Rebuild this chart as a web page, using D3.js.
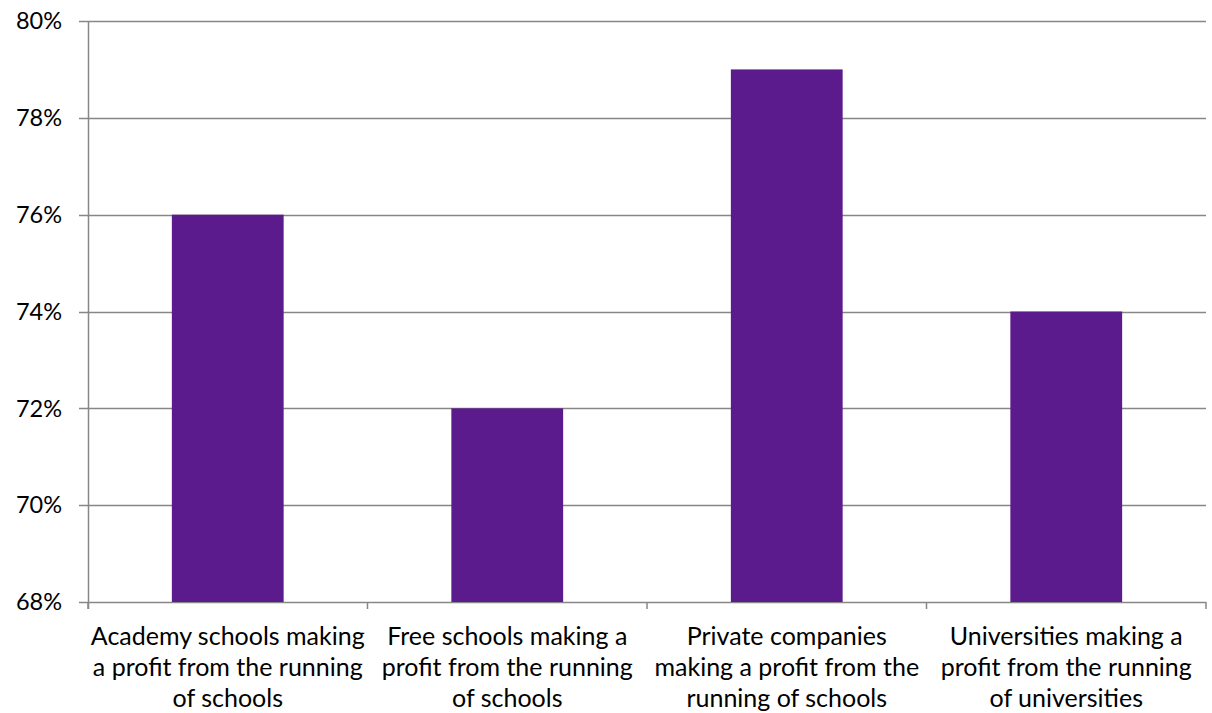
<!DOCTYPE html>
<html><head><meta charset="utf-8">
<script src="https://cdn.jsdelivr.net/npm/d3@7"></script>
<style>body{margin:0;background:#fff}svg{display:block}text{font-family:Lato,sans-serif;fill:#000}</style>
</head><body><svg id="c" width="1212" height="713"></svg>
<script>
const categories = [
  ["Academy schools making", "a profit from the running", "of schools"],
  ["Free schools making a", "profit from the running", "of schools"],
  ["Private companies", "making a profit from the", "running of schools"],
  ["Universities making a", "profit from the running", "of universities"]
];
const values = [76, 72, 79, 74];
const yTicks = [68, 70, 72, 74, 76, 78, 80];

const svg = d3.select("#c");
const L = 88, R = 1206, T = 21, B = 602;
const x = d3.scaleBand().domain(d3.range(categories.length)).range([L, R]).paddingInner(0.6).paddingOuter(0.3);
const y = d3.scaleLinear().domain([68, 80]).range([B, T]);

svg.append("g").selectAll("line").data(yTicks).join("line")
  .attr("x1", L - 9).attr("x2", R).attr("y1", d => Math.round(y(d)) + 0.5).attr("y2", d => Math.round(y(d)) + 0.5)
  .attr("stroke", "#878787").attr("stroke-width", 1.5);

svg.append("g").selectAll("rect").data(values).join("rect")
  .attr("x", (d, i) => x(i)).attr("width", x.bandwidth())
  .attr("y", d => y(d)).attr("height", d => B - y(d))
  .attr("fill", "#5B1B8D");

svg.append("line").attr("x1", L + 0.5).attr("x2", L + 0.5).attr("y1", T).attr("y2", B + 7)
  .attr("stroke", "#878787").attr("stroke-width", 1.5);

const step = x.step();
svg.append("g").selectAll("line").data(d3.range(categories.length + 1)).join("line")
  .attr("x1", i => L + i * step).attr("x2", i => L + i * step).attr("y1", B).attr("y2", B + 7)
  .attr("stroke", "#878787").attr("stroke-width", 1.5);

svg.append("g").selectAll("text").data(yTicks).join("text")
  .attr("x", 62).attr("y", d => y(d)).attr("dy", "0.35em").attr("text-anchor", "end")
  .attr("font-size", 23.5).text(d => d + "%");

const xl = svg.append("g").selectAll("text").data(categories).join("text")
  .attr("text-anchor", "middle").attr("font-size", 25)
  .attr("transform", (d, i) => `translate(${x(i) + x.bandwidth() / 2},0)`);
xl.selectAll("tspan").data(d => d).join("tspan")
  .attr("x", 0).attr("y", (d, j) => 645 + j * 31).text(d => d);
</script></body></html>
